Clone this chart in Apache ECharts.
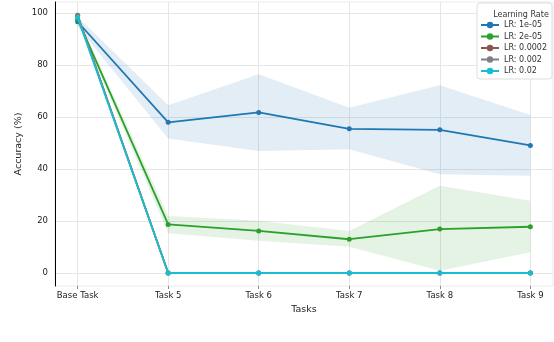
<!DOCTYPE html>
<html>
<head>
<meta charset="utf-8">
<script src="https://cdn.jsdelivr.net/npm/echarts@6/dist/echarts.min.js"></script>
<style>
  html, body { margin: 0; padding: 0; background: #fff; }
  #chart { width: 554px; height: 342px; }
</style>
</head>
<body>
<div id="chart"></div>
<script>
// categories on the x axis
const tasks = ['Base Task', 'Task 5', 'Task 6', 'Task 7', 'Task 8', 'Task 9'];
const yTicks = [0, 20, 40, 60, 80, 100];

// mean accuracy per learning rate
const lr1e5 = [96.7, 58.0, 61.8, 55.5, 55.1, 49.1];
const lr2e5 = [97.6, 18.7, 16.2, 13.0, 16.9, 17.8];
const lr2e4 = [99.2, 0, 0, 0, 0, 0];
const lr2e3 = [99.0, 0, 0, 0, 0, 0];
const lr2e2 = [98.4, 0, 0, 0, 0, 0];

// shaded band (lower / upper) for the two that have one
const lr1e5Low = [94.8, 51.8, 47.0, 47.6, 38.0, 37.4];
const lr1e5High = [98.6, 64.6, 76.5, 63.6, 72.3, 60.8];
const lr2e5Low = [96.4, 15.3, 12.4, 10.1, 0.9, 8.0];
const lr2e5High = [98.8, 21.9, 20.1, 16.2, 33.6, 27.8];

const names = ['LR: 1e-05', 'LR: 2e-05', 'LR: 0.0002', 'LR: 0.002', 'LR: 0.02'];
const colors = ['#1f77b4', '#2ca02c', '#8c564b', '#7f7f7f', '#17becf'];
const values = [lr1e5, lr2e5, lr2e4, lr2e3, lr2e2];

const pts = arr => arr.map((v, i) => [i, v]);

// band as one polygon: upper edge left->right, lower edge back
function band(low, high, color) {
  return {
    type: 'custom',
    silent: true,
    z: 1,
    data: low.map((v, i) => [i, v, high[i]]),
    encode: { x: 0, y: [1, 2] },
    renderItem: function (params, api) {
      if (params.dataIndex !== 0) return null;
      const up = high.map((v, i) => api.coord([i, v]));
      const dn = low.map((v, i) => api.coord([i, v])).reverse();
      return {
        type: 'polygon',
        shape: { points: up.concat(dn) },
        style: { fill: color, opacity: 0.13 }
      };
    }
  };
}

const series = [
  band(lr1e5Low, lr1e5High, colors[0]),
  band(lr2e5Low, lr2e5High, colors[1])
].concat(
  values.map((vals, k) => ({
    name: names[k],
    type: 'line',
    data: pts(vals),
    color: colors[k],
    symbol: 'circle',
    symbolSize: 5,
    lineStyle: { width: 1.8 },
    z: 3 + k
  }))
);

const chart = echarts.init(document.getElementById('chart'));
chart.setOption({
  animation: false,
  textStyle: { fontFamily: 'DejaVu Sans' },
  title: {
    text: 'Learning Rate',
    left: 516, top: 6, textAlign: 'center',
    textStyle: { fontSize: 8, fontWeight: 'normal', color: '#333' }
  },
  legend: {
    data: names,
    orient: 'vertical',
    right: 2, top: 3,
    padding: [18, 5, 4, 3],
    itemGap: 3.5,
    itemWidth: 18, itemHeight: 8,
    backgroundColor: '#fff',
    borderColor: '#ddd', borderWidth: 1, borderRadius: 3,
    textStyle: { fontSize: 8, color: '#333' }
  },
  grid: { left: 55, right: 1, top: 2, bottom: 56, show: true, borderColor: '#ebebeb', borderWidth: 1 },
  xAxis: {
    type: 'value', min: -0.25, max: 5.25,
    name: 'Tasks', nameLocation: 'middle', nameGap: 19, nameMoveOverlap: false,
    nameTextStyle: { fontSize: 9.5, color: '#222' },
    axisLine: { show: false, onZero: false },
    axisTick: { show: true, customValues: [0, 1, 2, 3, 4, 5], length: 3, lineStyle: { color: '#888' } },
    axisLabel: {
      customValues: [0, 1, 2, 3, 4, 5], fontSize: 8.5, color: '#222', margin: 5,
      formatter: v => tasks[Math.round(v)]
    },
    splitLine: { show: true, lineStyle: { color: '#e6e6e6' } }
  },
  yAxis: {
    type: 'value', min: -5, max: 104.3,
    name: 'Accuracy (%)', nameLocation: 'middle', nameGap: 31, nameMoveOverlap: false,
    nameTextStyle: { fontSize: 9.5, color: '#222' },
    axisLine: { show: true, onZero: false, lineStyle: { color: '#000', width: 1 } },
    axisTick: { show: false, customValues: yTicks },
    axisLabel: { customValues: yTicks, fontSize: 8.5, color: '#222', margin: 7 },
    splitLine: { show: true, lineStyle: { color: '#e6e6e6' } }
  },
  series: series
});
</script>
</body>
</html>
